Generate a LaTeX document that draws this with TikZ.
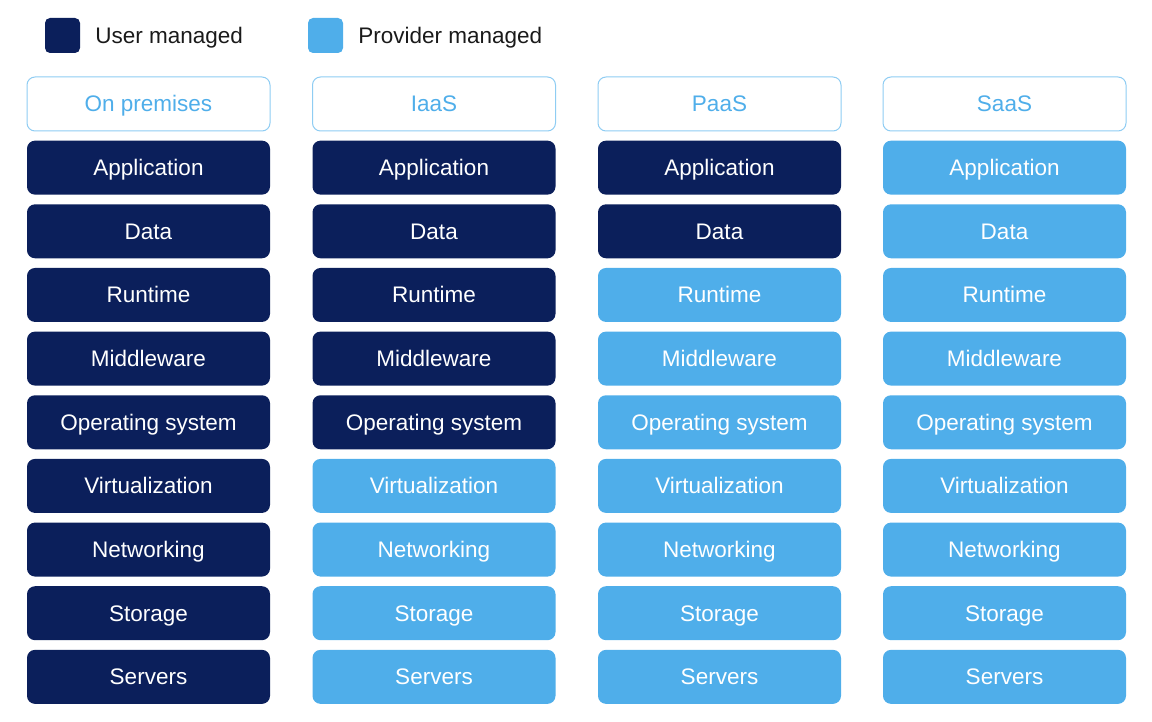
\documentclass[tikz,border=0pt]{standalone}
\usepackage{fontspec}
\setmainfont{Liberation Sans}
\usetikzlibrary{positioning}
\definecolor{usernavy}{HTML}{0B1F5B}
\definecolor{provblue}{HTML}{4FAEEA}
\definecolor{headline}{HTML}{8FCDF3}
\definecolor{keytext}{HTML}{1A1A1A}

\begin{document}
\begin{tikzpicture}[x=1pt, y=-1pt, node distance=15pt,
    layer/.style={rectangle, rounded corners=8pt, minimum width=243pt, minimum height=54pt,
      inner sep=0pt, text height=18pt, text depth=2pt, font=\fontsize{22.5}{27}\selectfont, text=white},
    user/.style={layer, fill=usernavy},
    provider/.style={layer, fill=provblue},
    header/.style={layer, draw=headline, line width=1pt, fill=white, text=provblue},
    keybox/.style={rectangle, rounded corners=5pt, minimum size=35pt, inner sep=0pt},
    keylabel/.style={text=keytext, inner sep=0pt, text height=18pt, text depth=2pt, font=\fontsize{22.5}{27}\selectfont}]
    \useasboundingbox (0,0) rectangle (1152,722);

    % legend
    \node[keybox, fill=usernavy] (userkey) at (62.5,35.5) {};
    \node[keylabel] (usertext) [right=15pt of userkey] {User managed};
    \node[keybox, fill=provblue] (provkey) at (325.5,35.5) {};
    \node[keylabel] (provtext) [right=15pt of provkey] {Provider managed};

    % one column per service model, the top rows are user managed
    \foreach \col/\x/\title/\nuser in {onprem/148.5/On premises/9, iaas/434/IaaS/5, paas/719.5/PaaS/2, saas/1004.5/SaaS/0} {
      \node[header] (\col) at (\x,104) {\title};
      \foreach \name [count=\i] in {Application, Data, Runtime, Middleware, Operating system,
          Virtualization, Networking, Storage, Servers} {
        \ifnum\i>\nuser
          \node[provider] (\col-\i) at (\x,{104+63.65*\i}) {\name};
        \else
          \node[user] (\col-\i) at (\x,{104+63.65*\i}) {\name};
        \fi
      }
    }
\end{tikzpicture}
\end{document}
